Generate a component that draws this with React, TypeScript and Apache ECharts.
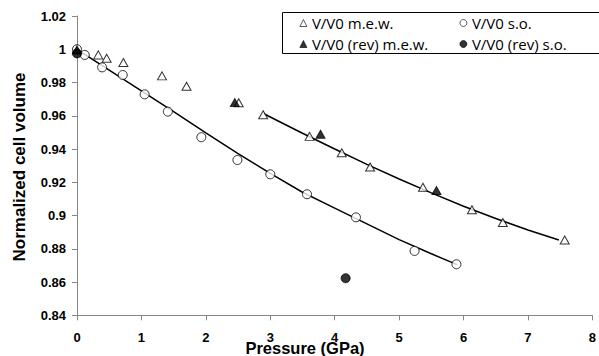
import React, { useEffect, useRef } from "react";
import * as echarts from "echarts";

// Open triangles: V/V0 m.e.w.
const mewP = [0, 0.33, 0.46, 0.72, 1.32, 1.7, 2.51, 2.89, 3.61, 4.11, 4.55, 5.37, 6.13, 6.61, 7.57];
const mewV = [1.0, 0.9966, 0.9946, 0.992, 0.984, 0.9777, 0.9678, 0.9606, 0.9476, 0.9378, 0.9292, 0.917, 0.9035, 0.8958, 0.8853];

// Filled triangles: V/V0 (rev) m.e.w.
const mewRevP = [0, 2.45, 3.78, 5.58];
const mewRevV = [0.9995, 0.9679, 0.9489, 0.915];

// Open circles: V/V0 s.o.
const soP = [0, 0.12, 0.39, 0.71, 1.05, 1.41, 1.93, 2.49, 3.0, 3.57, 4.33, 5.24, 5.89];
const soV = [1.0, 0.9966, 0.9891, 0.9845, 0.9729, 0.9625, 0.9471, 0.9334, 0.9248, 0.9128, 0.8989, 0.8787, 0.8707];

// Filled circles: V/V0 (rev) s.o.
const soRevP = [0, 4.17];
const soRevV = [0.9975, 0.8623];

// Fitted curves
const fitSoP = [0, 0.5, 1, 1.5, 2, 2.5, 3, 3.5, 4, 4.5, 5, 5.5, 5.9];
const fitSoV = [1.0, 0.9875, 0.975, 0.9625, 0.9497, 0.9372, 0.9253, 0.914, 0.9045, 0.895, 0.8855, 0.877, 0.8705];
const fitMewP = [2.9, 3.5, 4, 4.5, 5, 5.5, 6, 6.5, 7, 7.48];
const fitMewV = [0.9612, 0.9495, 0.94, 0.9308, 0.922, 0.9136, 0.9056, 0.8982, 0.8913, 0.8853];

const legendLeft = ["V/V0 m.e.w.", "V/V0 (rev) m.e.w."];
const legendRight = ["V/V0 s.o.", "V/V0 (rev) s.o."];

const xTitle = "Pressure (GPa)";
const yTitle = "Normalized cell volume";

const zip = (a: number[], b: number[]) => a.map((v, i) => [v, b[i]]);

export default function App() {
  const ref = useRef<HTMLDivElement>(null);
  useEffect(() => {
    if (!ref.current) return;
    const chart = echarts.init(ref.current, undefined, { renderer: "svg" });
    const axisFont = { fontFamily: "Liberation Sans", fontWeight: "bold" as const, fontSize: 13, color: "#000" };
    const legendText = { fontFamily: "Open Sans", fontSize: 15, color: "#000", lineHeight: 15 };
    const open = { color: "#fff", borderColor: "#000", borderWidth: 1 };
    const filled = { color: "#000", borderColor: "#000", borderWidth: 1 };
    const legendBase = {
      orient: "vertical",
      top: 15.5,
      padding: 0,
      itemWidth: 7,
      itemHeight: 7,
      itemGap: 6,
      textStyle: legendText,
      itemStyle: { borderWidth: 0.8 },
    };
    chart.setOption({
      animation: false,
      backgroundColor: "#fff",
      grid: { left: 77, top: 16, width: 517, height: 299.3, containLabel: false },
      xAxis: {
        type: "value",
        min: 0,
        max: 8,
        interval: 1,
        axisLine: { show: true, lineStyle: { color: "#868686", width: 1 } },
        axisTick: { show: true, length: 5, lineStyle: { color: "#868686" } },
        splitLine: { show: false },
        axisLabel: { ...axisFont, margin: 16 },
      },
      yAxis: {
        type: "value",
        min: 0.84,
        max: 1.02,
        interval: 0.02,
        axisLine: { show: true, lineStyle: { color: "#868686", width: 1 } },
        axisTick: { show: true, length: 5, lineStyle: { color: "#868686" } },
        splitLine: { show: false },
        axisLabel: {
          ...axisFont,
          margin: 11,
          formatter: (v: number) => String(Math.round(v * 100) / 100),
        },
      },
      legend: [
        { ...legendBase, data: legendLeft, left: 299.5 },
        { ...legendBase, data: legendRight, left: 459.5 },
      ],
      graphic: [
        {
          type: "rect",
          shape: { x: 282.5, y: 12.5, width: 330, height: 41 },
          style: { fill: "none", stroke: "#000", lineWidth: 1 },
          z: 10,
        },
        {
          type: "text",
          x: 305,
          y: 347.5,
          style: {
            text: xTitle,
            fontFamily: "Liberation Sans",
            fontWeight: "bold",
            fontSize: 16.5,
            fill: "#000",
            align: "center",
            verticalAlign: "middle",
          },
        },
        {
          type: "text",
          x: 19,
          y: 167,
          rotation: Math.PI / 2,
          style: {
            text: yTitle,
            fontFamily: "Liberation Sans",
            fontWeight: "bold",
            fontSize: 17,
            fill: "#000",
            align: "center",
            verticalAlign: "middle",
          },
        },
      ],
      series: [
        {
          name: "fitSo",
          type: "line",
          data: zip(fitSoP, fitSoV),
          showSymbol: false,
          lineStyle: { color: "#000", width: 1.5 },
          z: 1,
        },
        {
          name: "fitMew",
          type: "line",
          data: zip(fitMewP, fitMewV),
          showSymbol: false,
          lineStyle: { color: "#000", width: 1.5 },
          z: 1,
        },
        {
          name: legendLeft[0],
          type: "scatter",
          symbol: "triangle",
          symbolSize: [9, 8],
          data: zip(mewP, mewV),
          itemStyle: open,
          z: 3,
        },
        {
          name: legendRight[0],
          type: "scatter",
          symbol: "circle",
          symbolSize: 9,
          data: zip(soP, soV),
          itemStyle: open,
          z: 3,
        },
        {
          name: legendLeft[1],
          type: "scatter",
          symbol: "triangle",
          symbolSize: [9, 8],
          data: zip(mewRevP, mewRevV),
          itemStyle: filled,
          z: 4,
        },
        {
          name: legendRight[1],
          type: "scatter",
          symbol: "circle",
          symbolSize: 9,
          data: zip(soRevP, soRevV),
          itemStyle: filled,
          z: 4,
        },
      ],
    });
    return () => chart.dispose();
  }, []);
  return (
    <div
      ref={ref}
      style={{ position: "fixed", left: 0, top: 0, width: 599, height: 356, background: "#fff" }}
    />
  );
}
